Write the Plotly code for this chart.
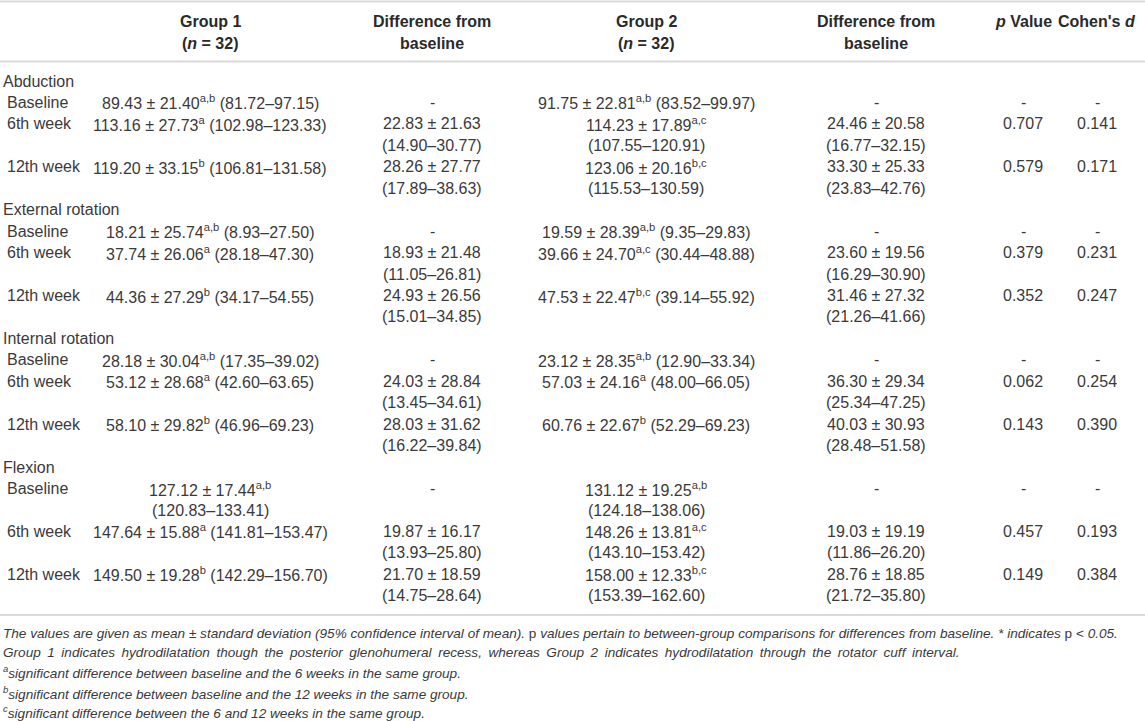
import plotly.graph_objects as go

measures = ["Abduction", "External rotation", "Internal rotation", "Flexion"]
timepoints = ["Baseline", "6th week", "12th week"]

# Group 1 (n = 32): mean, SD, 95% CI, superscript markers per timepoint
g1_mean = [[89.43, 113.16, 119.20], [18.21, 37.74, 44.36], [28.18, 53.12, 58.10], [127.12, 147.64, 149.50]]
g1_sd = [[21.40, 27.73, 33.15], [25.74, 26.06, 27.29], [30.04, 28.68, 29.82], [17.44, 15.88, 19.28]]
g1_lo = [[81.72, 102.98, 106.81], [8.93, 28.18, 34.17], [17.35, 42.60, 46.96], [120.83, 141.81, 142.29]]
g1_hi = [[97.15, 123.33, 131.58], [27.50, 47.30, 54.55], [39.02, 63.65, 69.23], [133.41, 153.47, 156.70]]
g1_sup = [["a,b", "a", "b"], ["a,b", "a", "b"], ["a,b", "a", "b"], ["a,b", "a", "b"]]

# Group 1 difference from baseline (6th week, 12th week)
d1_mean = [[22.83, 28.26], [18.93, 24.93], [24.03, 28.03], [19.87, 21.70]]
d1_sd = [[21.63, 27.77], [21.48, 26.56], [28.84, 31.62], [16.17, 18.59]]
d1_lo = [[14.90, 17.89], [11.05, 15.01], [13.45, 16.22], [13.93, 14.75]]
d1_hi = [[30.77, 38.63], [26.81, 34.85], [34.61, 39.84], [25.80, 28.64]]

# Group 2 (n = 32)
g2_mean = [[91.75, 114.23, 123.06], [19.59, 39.66, 47.53], [23.12, 57.03, 60.76], [131.12, 148.26, 158.00]]
g2_sd = [[22.81, 17.89, 20.16], [28.39, 24.70, 22.47], [28.35, 24.16, 22.67], [19.25, 13.81, 12.33]]
g2_lo = [[83.52, 107.55, 115.53], [9.35, 30.44, 39.14], [12.90, 48.00, 52.29], [124.18, 143.10, 153.39]]
g2_hi = [[99.97, 120.91, 130.59], [29.83, 48.88, 55.92], [33.34, 66.05, 69.23], [138.06, 153.42, 162.60]]
g2_sup = [["a,b", "a,c", "b,c"], ["a,b", "a,c", "b,c"], ["a,b", "a", "b"], ["a,b", "a,c", "b,c"]]

# Group 2 difference from baseline
d2_mean = [[24.46, 33.30], [23.60, 31.46], [36.30, 40.03], [19.03, 28.76]]
d2_sd = [[20.58, 25.33], [19.56, 27.32], [29.34, 30.93], [19.19, 18.85]]
d2_lo = [[16.77, 23.83], [16.29, 21.26], [25.34, 28.48], [11.86, 21.72]]
d2_hi = [[32.15, 42.76], [30.90, 41.66], [47.25, 51.58], [26.20, 35.80]]

p_values = [[0.707, 0.579], [0.379, 0.352], [0.062, 0.143], [0.457, 0.149]]
cohens_d = [[0.141, 0.171], [0.231, 0.247], [0.254, 0.390], [0.193, 0.384]]

headers = ["<b>Group 1</b><br><b>(<i>n</i> = 32)</b>", "<b>Difference from</b><br><b>baseline</b>",
           "<b>Group 2</b><br><b>(<i>n</i> = 32)</b>", "<b>Difference from</b><br><b>baseline</b>",
           "<b><i>p</i> Value</b>", "<b>Cohen's <i>d</i></b>"]

footnotes = [
    "<i>The values are given as mean ± standard deviation (95% confidence interval of mean).</i> p "
    "<i>values pertain to between-group comparisons for differences from baseline. * indicates</i> p < <i>0.05.</i>",
    "<i>Group 1 indicates hydrodilatation though the posterior glenohumeral recess, whereas Group 2 indicates "
    "hydrodilatation through the rotator cuff interval.</i>",
    "<i><sup>a</sup>significant difference between baseline and the 6 weeks in the same group.</i>",
    "<i><sup>b</sup>significant difference between baseline and the 12 weeks in the same group.</i>",
    "<i><sup>c</sup>significant difference between the 6 and 12 weeks in the same group.</i>",
]

# which group cells get split over two lines (layout only)
g1_wrap = [[False, False, False], [False, False, False], [False, False, False], [True, False, False]]
g2_wrap = [[False, True, True], [False, False, False], [False, False, False], [True, True, True]]

# ---- layout ----
W, H = 1145, 721
col_x = [210, 432, 646, 876, 1023, 1097]
first_line = 81
pitch = 21.45
font = "Liberation Sans, Arial, Helvetica, sans-serif"
txt_col = "#3a3a3a"
head_col = "#2a2a2a"
rule_col = "#d9d9d9"

annotations = []


def add(text, x, y, anchor="center", size=16, color=txt_col):
    annotations.append(dict(text=text, x=x, y=y, xref="x", yref="y", xanchor=anchor, yanchor="middle",
                            showarrow=False, font=dict(family=font, size=size, color=color)))


def ms(m, s, sup=""):
    t = f"{m:.2f} ± {s:.2f}"
    if sup:
        t += f"<sup>{sup}</sup>"
    return t


def ci(lo, hi):
    return f"({lo:.2f}\u2013{hi:.2f})"


# header
for i, h in enumerate(headers):
    parts = h.split("<br>")
    for j, p in enumerate(parts):
        add(p, col_x[i], 21 + j * 22, color=head_col)

line = 0
for mi, meas in enumerate(measures):
    add(meas, 1, first_line + line * pitch, anchor="left")
    line += 1
    for ti, tp in enumerate(timepoints):
        y = first_line + line * pitch
        y2 = y + pitch
        add(tp, 5, y, anchor="left")
        # group 1
        a = ms(g1_mean[mi][ti], g1_sd[mi][ti], g1_sup[mi][ti])
        b = ci(g1_lo[mi][ti], g1_hi[mi][ti])
        if g1_wrap[mi][ti]:
            add(a, col_x[0], y)
            add(b, col_x[0], y2)
        else:
            add(a + " " + b, col_x[0], y)
        # group 2
        a = ms(g2_mean[mi][ti], g2_sd[mi][ti], g2_sup[mi][ti])
        b = ci(g2_lo[mi][ti], g2_hi[mi][ti])
        if g2_wrap[mi][ti]:
            add(a, col_x[2], y)
            add(b, col_x[2], y2)
        else:
            add(a + " " + b, col_x[2], y)
        if ti == 0:
            for c in (1, 3, 4, 5):
                add("-", col_x[c], y)
            nlines = 2 if (g1_wrap[mi][ti] or g2_wrap[mi][ti]) else 1
        else:
            k = ti - 1
            add(ms(d1_mean[mi][k], d1_sd[mi][k]), col_x[1], y)
            add(ci(d1_lo[mi][k], d1_hi[mi][k]), col_x[1], y2)
            add(ms(d2_mean[mi][k], d2_sd[mi][k]), col_x[3], y)
            add(ci(d2_lo[mi][k], d2_hi[mi][k]), col_x[3], y2)
            add(f"{p_values[mi][k]:.3f}", col_x[4], y)
            add(f"{cohens_d[mi][k]:.3f}", col_x[5], y)
            nlines = 2
        line += nlines

foot_y = [633, 652.5, 672, 692.5, 712]
for i, (fy, ft) in enumerate(zip(foot_y, footnotes)):
    if i == 1:
        # the second note is set justified in the source, so its word gaps are wider
        ft = ft.replace(" ", " \u2009")
    add(ft, 1, fy, anchor="left", size=13.6)

shapes = []
for ry in (1.5, 61.5, 615):
    shapes.append(dict(type="line", xref="x", yref="y", x0=0, x1=W, y0=ry, y1=ry,
                       line=dict(color=rule_col, width=2)))

fig = go.Figure()
fig.update_layout(
    width=W, height=H,
    margin=dict(l=0, r=0, t=0, b=0),
    paper_bgcolor="white", plot_bgcolor="white",
    xaxis=dict(range=[0, W], visible=False, fixedrange=True),
    yaxis=dict(range=[H, 0], visible=False, fixedrange=True),
    annotations=annotations,
    shapes=shapes,
    showlegend=False,
)

# drop the default page margin so the table sits flush with the window
fig.write_html("out.html", config={"displayModeBar": False},
               post_script="document.body.style.margin='0';document.body.style.overflow='hidden';")
